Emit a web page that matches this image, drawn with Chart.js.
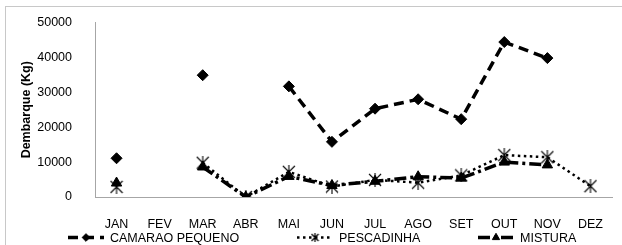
<!DOCTYPE html>
<html>
<head>
<meta charset="utf-8">
<script src="https://cdn.jsdelivr.net/npm/chart.js@4.4.1/dist/chart.umd.min.js"></script>
<style>
    html, body { margin: 0; padding: 0; background: #fff; }
    #wrap { width: 622px; height: 245px; position: relative; }
</style>
</head>
<body>
<div id="wrap"><canvas id="chart" width="622" height="245"></canvas></div>
<script>
const months = ["JAN", "FEV", "MAR", "ABR", "MAI", "JUN", "JUL", "AGO", "SET", "OUT", "NOV", "DEZ"];
const camarao = [11100, null, 34900, null, 31700, 15800, 25300, 28000, 22300, 44400, 39800, null];
const pescadinha = [2900, null, 9800, 0, 7200, 3000, 4900, 4100, 6200, 12000, 11400, 3100];
const mistura = [4000, null, 8600, 0, 5900, 3300, 4500, 5800, 5400, 10000, 9200, null];
const yTicks = [0, 10000, 20000, 30000, 40000, 50000];

const FONT = "'Liberation Sans', Arial, sans-serif";

// asterisk marker: X with a vertical stroke
function makeAsterisk(size, lw) {
    const c = document.createElement("canvas");
    c.width = size;
    c.height = size;
    const g = c.getContext("2d");
    g.strokeStyle = "#000";
    g.lineWidth = lw;
    g.beginPath();
    g.moveTo(1, 1); g.lineTo(size - 1, size - 1);
    g.moveTo(size - 1, 1); g.lineTo(1, size - 1);
    g.moveTo(size / 2, 0); g.lineTo(size / 2, size);
    g.stroke();
    return c;
}
const asterisk = makeAsterisk(14, 1.1);
const asteriskSmall = makeAsterisk(9, 1.2);

const legendX = [68, 297, 478];

const frame = {
    id: "frame",
    beforeDraw(chart) {
        const ctx = chart.ctx;
        ctx.save();
        ctx.strokeStyle = "#c8c8c8";
        ctx.lineWidth = 1;
        ctx.strokeRect(5.5, 6.5, 700, 400);
        ctx.restore();
    },
    afterDraw(chart) {
        const ctx = chart.ctx;
        const y = 237.5;
        ctx.save();
        chart.data.datasets.forEach((ds, i) => {
            const x0 = legendX[i];
            const w = 36;
            ctx.strokeStyle = "#000";
            ctx.lineWidth = ds.borderWidth;
            ctx.setLineDash(ds.borderDash || []);
            ctx.beginPath();
            ctx.moveTo(x0, y);
            ctx.lineTo(x0 + w, y);
            ctx.stroke();
            ctx.setLineDash([]);
            ctx.lineWidth = 1;
            ctx.fillStyle = "#000";
            const style = ds.pointStyle === asterisk ? asteriskSmall : ds.pointStyle;
            Chart.helpers.drawPoint(ctx, {
                pointStyle: style,
                radius: ds.pointRadius * 0.7,
                rotation: 0,
                borderWidth: 1,
            }, x0 + w / 2, y);
            ctx.font = "12.5px " + FONT;
            ctx.textBaseline = "middle";
            ctx.textAlign = "left";
            ctx.fillText(ds.label, x0 + w + 6, y + 1);
        });
        ctx.restore();
    },
};

new Chart(document.getElementById("chart"), {
    type: "line",
    data: {
        labels: months,
        datasets: [
            {
                label: "CAMARAO PEQUENO",
                data: camarao,
                borderColor: "#000",
                backgroundColor: "#000",
                borderWidth: 3.5,
                borderDash: [10, 6],
                pointStyle: "rectRot",
                pointRadius: 5.5,
                pointBorderWidth: 1,
                tension: 0,
            },
            {
                label: "PESCADINHA",
                data: pescadinha,
                borderColor: "#000",
                backgroundColor: "#000",
                borderWidth: 2.5,
                borderDash: [2.5, 3.5],
                pointStyle: asterisk,
                pointRadius: 7,
                tension: 0,
            },
            {
                label: "MISTURA",
                data: mistura,
                borderColor: "#000",
                backgroundColor: "#000",
                borderWidth: 3.5,
                borderDash: [12, 4, 3, 4],
                pointStyle: "triangle",
                pointRadius: 6,
                pointBorderWidth: 1,
                tension: 0,
            },
        ],
    },
    options: {
        responsive: false,
        animation: false,
        spanGaps: false,
        layout: { padding: { left: 5, right: 10, top: 22, bottom: 16 } },
        scales: {
            x: {
                offset: true,
                grid: { display: false },
                border: { display: true, color: "#a6a6a6", width: 1 },
                ticks: { color: "#000", font: { family: FONT, size: 12.5 }, padding: 12, maxRotation: 0, autoSkip: false },
                afterFit: (s) => { s.height = 32; },
            },
            y: {
                min: 0,
                max: 50000,
                afterBuildTicks: (s) => { s.ticks = yTicks.map((v) => ({ value: v })); },
                grid: { display: false },
                border: { display: true, color: "#a6a6a6", width: 1 },
                ticks: {
                    color: "#000",
                    font: { family: FONT, size: 12.5 },
                    padding: 15,
                    callback: (v) => String(v),
                },
                title: {
                    display: true,
                    text: "Dembarque (Kg)",
                    color: "#000",
                    font: { family: FONT, size: 12.5, weight: "bold" },
                    padding: { top: 14, bottom: 0 },
                },
                afterFit: (s) => { s.width = 90; },
            },
        },
        plugins: {
            legend: { display: false },
            tooltip: { enabled: false },
        },
    },
    plugins: [frame],
});
</script>
</body>
</html>
